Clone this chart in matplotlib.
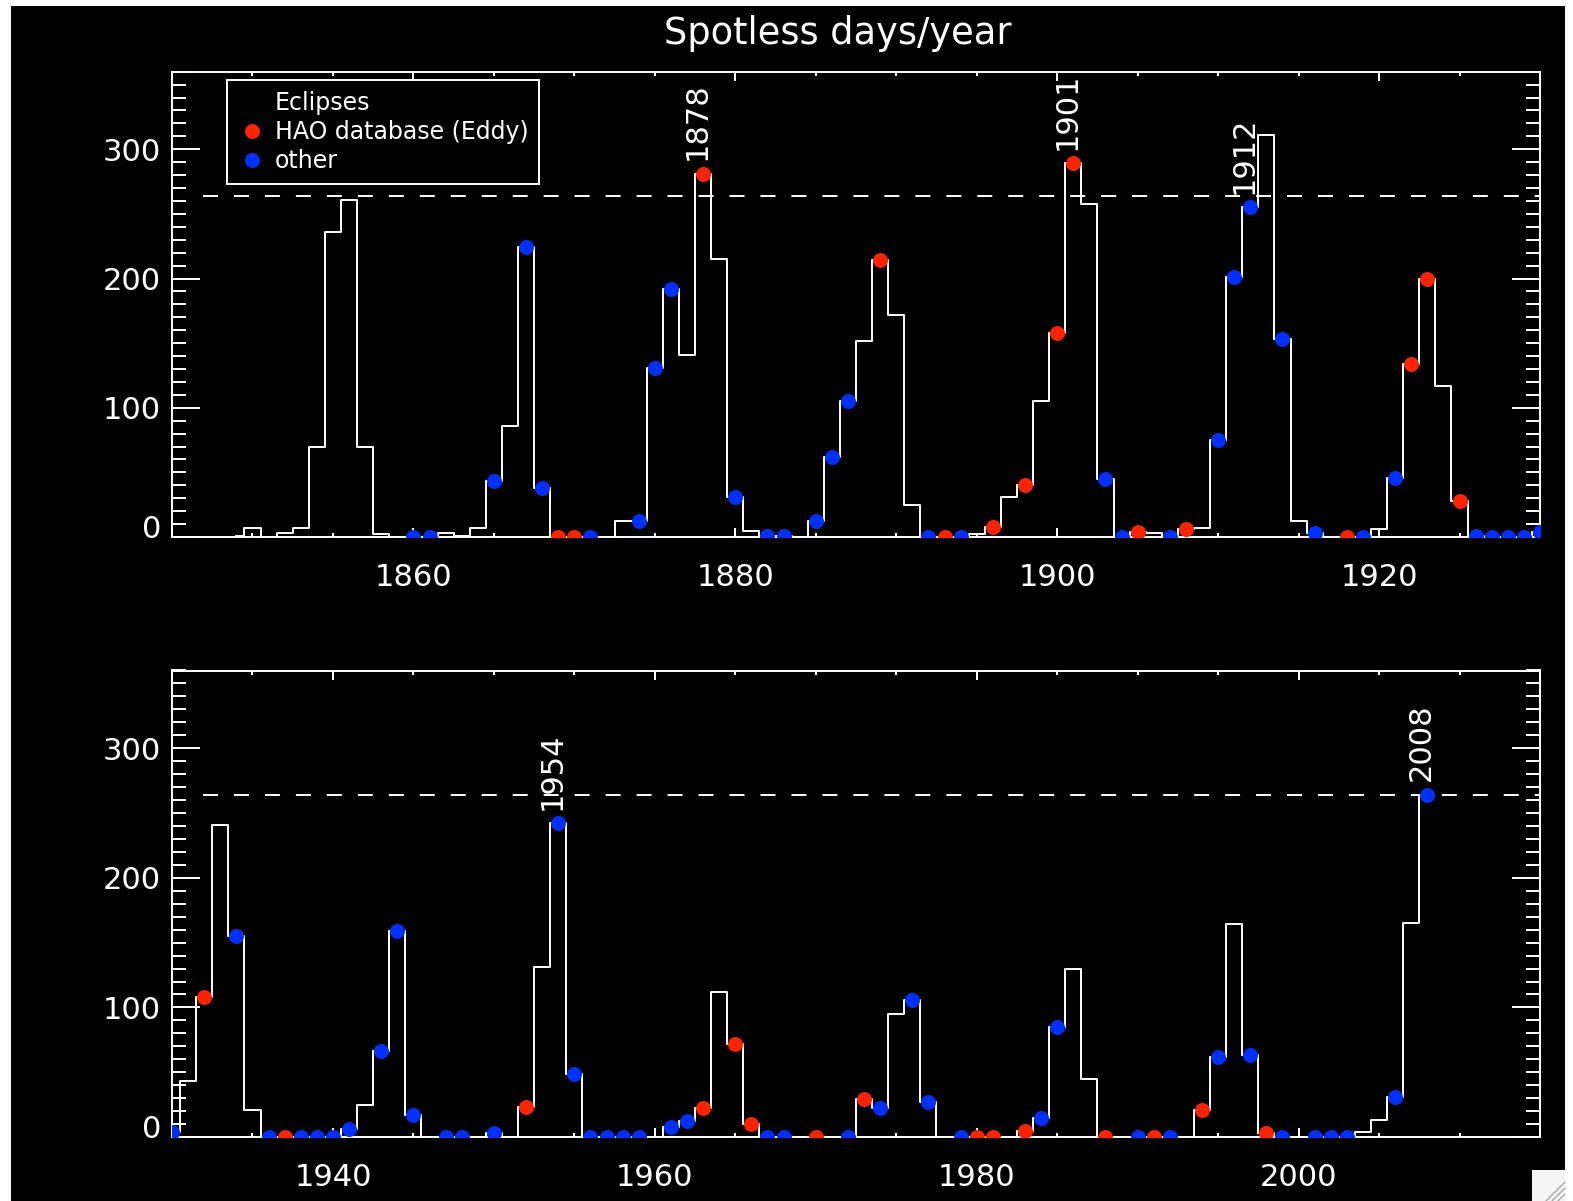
import numpy as np
import matplotlib
matplotlib.use('Agg')
import matplotlib.pyplot as plt
from matplotlib.lines import Line2D
from matplotlib.patches import Rectangle
from matplotlib.ticker import MultipleLocator, FixedLocator
from matplotlib.transforms import ScaledTranslation

# spotless days per year, 1849-2008
years = np.arange(1849, 2009)
spotless = np.array([
    1,
    7, 0, 3, 7, 70, 236, 261, 70, 2, 0,            # 1850s
    0, 0, 3, 1, 7, 43, 86, 224, 38, 0,             # 1860s
    0, 0, 0, 12, 12, 131, 192, 141, 281, 215,      # 1870s
    31, 5, 1, 1, 0, 12, 62, 105, 152, 214,         # 1880s
    172, 25, 0, 0, 0, 2, 8, 31, 40, 105,           # 1890s
    158, 289, 258, 45, 0, 4, 3, 0, 6, 7,           # 1900s
    75, 201, 255, 311, 153, 12, 3, 0, 0, 0,        # 1910s
    6, 46, 134, 200, 117, 28, 1, 0, 0, 0,          # 1920s
    4, 43, 108, 241, 155, 21, 0, 0, 0, 0,          # 1930s
    0, 6, 25, 66, 159, 17, 0, 0, 0, 0,             # 1940s
    3, 0, 23, 131, 242, 49, 0, 0, 0, 0,            # 1950s
    0, 8, 12, 22, 112, 72, 10, 0, 0, 0,            # 1960s
    0, 0, 0, 29, 22, 95, 106, 27, 0, 0,            # 1970s
    0, 0, 0, 5, 15, 85, 130, 45, 0, 0,             # 1980s
    0, 0, 0, 0, 21, 62, 164, 63, 3, 0,             # 1990s
    0, 0, 0, 0, 4, 13, 31, 165, 264,               # 2000s
])

# eclipse years
hao_years = [1869, 1870, 1878, 1889, 1893, 1896, 1898, 1900, 1901, 1905,
             1908, 1918, 1922, 1923, 1925, 1932, 1937, 1952, 1963, 1965,
             1966, 1970, 1973, 1980, 1981, 1983, 1988, 1991, 1994, 1998]
other_years = [1860, 1861, 1865, 1867, 1868, 1871, 1874, 1875, 1876, 1880,
               1882, 1883, 1885, 1886, 1887, 1892, 1894, 1903, 1904, 1907,
               1910, 1911, 1912, 1914, 1916, 1919, 1921, 1926, 1927, 1928,
               1929, 1930, 1934, 1936, 1938, 1939, 1940, 1941, 1943, 1944,
               1945, 1947, 1948, 1950, 1954, 1955, 1956, 1957, 1958, 1959,
               1961, 1962, 1967, 1968, 1972, 1974, 1976, 1977, 1979, 1984,
               1985, 1990, 1992, 1995, 1997, 1999, 2001, 2002, 2003, 2006,
               2008]
labelled_years = [1878, 1901, 1912, 1954, 2008]
ref_year = 2008

panel_ranges = [(1845, 1930), (1930, 2015)]
yticks = [0, 100, 200, 300]
ymax = 360

RED = '#ff2400'
BLUE = '#0030ff'
FG = 'white'
LW = 1.4

plt.rcParams['font.family'] = ['DejaVu Sans']
plt.rcParams['lines.scale_dashes'] = False

fig = plt.figure(figsize=(15.73, 12.01), dpi=100, facecolor='white')
# black plotting window (screen grab look)
fig.patches.append(Rectangle((11 / 1573, 0), (1565 - 11) / 1573, 1 - 6 / 1201,
                             transform=fig.transFigure, facecolor='black',
                             edgecolor='none', zorder=-10))
fig.patches.append(Rectangle((1532 / 1573, 0), 33 / 1573, 31 / 1201,
                             transform=fig.transFigure, facecolor='#f4f4f4',
                             edgecolor='none', zorder=-9))
for k in range(3):
    fig.lines.append(Line2D([(1546 + 6 * k) / 1573, 1565 / 1573],
                            [0, (19 - 6 * k) / 1201],
                            transform=fig.transFigure, color='#9a9a9a', lw=0.8))

ax_rects = [[172 / 1573, 1 - 537 / 1201, 1368 / 1573, 465.3 / 1201],
            [172 / 1573, 1 - 1137 / 1201, 1368 / 1573, 466.5 / 1201]]

ref_level = spotless[years == ref_year][0]
lookup = dict(zip(years, spotless))
hao_vals = [lookup[y] for y in hao_years]
other_vals = [lookup[y] for y in other_years]

axes = []
for rect, (x0, x1) in zip(ax_rects, panel_ranges):
    ax = fig.add_axes(rect)
    ax.set_facecolor('black')
    ax.step(years, spotless, where='mid', color=FG, lw=LW, zorder=3)
    ax.plot(hao_years, hao_vals, 'o', color=RED, ms=10.8, mec='none', zorder=4)
    ax.plot(other_years, other_vals, 'o', color=BLUE, ms=10.8, mec='none', zorder=4)
    ax.axhline(ref_level, xmin=0.011, color=FG, lw=LW,
               linestyle=(10.8, (10.8, 11.5)), zorder=2)
    for yr in labelled_years:
        if x0 <= yr <= x1:
            ax.text(yr + 0.15, lookup[yr] + 10.5, str(yr), rotation=90,
                    rotation_mode='anchor', ha='left', va='baseline',
                    color=FG, fontsize=22, zorder=5)
    ax.set_xlim(x0, x1)
    ax.set_ylim(0, ymax)
    ax.xaxis.set_major_locator(MultipleLocator(20))
    ax.xaxis.set_minor_locator(MultipleLocator(5))
    ax.yaxis.set_major_locator(FixedLocator(yticks))
    ax.yaxis.set_minor_locator(MultipleLocator(10))
    ax.tick_params(axis='both', which='both', direction='in', colors=FG,
                   top=True, right=True, width=LW, labelsize=22)
    ax.tick_params(axis='x', which='major', length=6.5, pad=19)
    ax.tick_params(axis='x', which='minor', length=3.2)
    ax.tick_params(axis='y', which='major', length=20, pad=8)
    ax.tick_params(axis='y', which='minor', length=10)
    for sp in ax.spines.values():
        sp.set_color(FG)
        sp.set_linewidth(LW)
    axes.append(ax)

handles = [Line2D([], [], ls='none', marker=''),
           Line2D([], [], ls='none', marker='o', color=RED, ms=10.8, mec='none'),
           Line2D([], [], ls='none', marker='o', color=BLUE, ms=10.8, mec='none')]
leg = axes[0].legend(handles, ['Eclipses', 'HAO database (Eddy)', 'other'],
                     loc='upper left', bbox_to_anchor=(0.040, 0.982),
                     borderaxespad=0, fontsize=17, fancybox=False,
                     handlelength=1.2, handletextpad=0.4, labelspacing=0.22,
                     borderpad=0.45, labelcolor=FG)
leg.get_frame().set_facecolor('black')
leg.get_frame().set_edgecolor(FG)
leg.get_frame().set_linewidth(LW)
leg.get_frame().set_alpha(None)

fig.text(838 / 1573, 1 - 44 / 1201, 'Spotless days/year', ha='center',
         va='baseline', color=FG, fontsize=26.5)

# the zero label sits a little above its tick, as in the original
fig.canvas.draw()
for ax in axes:
    lab = ax.yaxis.get_major_ticks()[0].label1
    lab.set_transform(lab.get_transform() +
                      ScaledTranslation(0, 0.10, fig.dpi_scale_trans))

fig.savefig('out.png', dpi=100, facecolor=fig.get_facecolor())
